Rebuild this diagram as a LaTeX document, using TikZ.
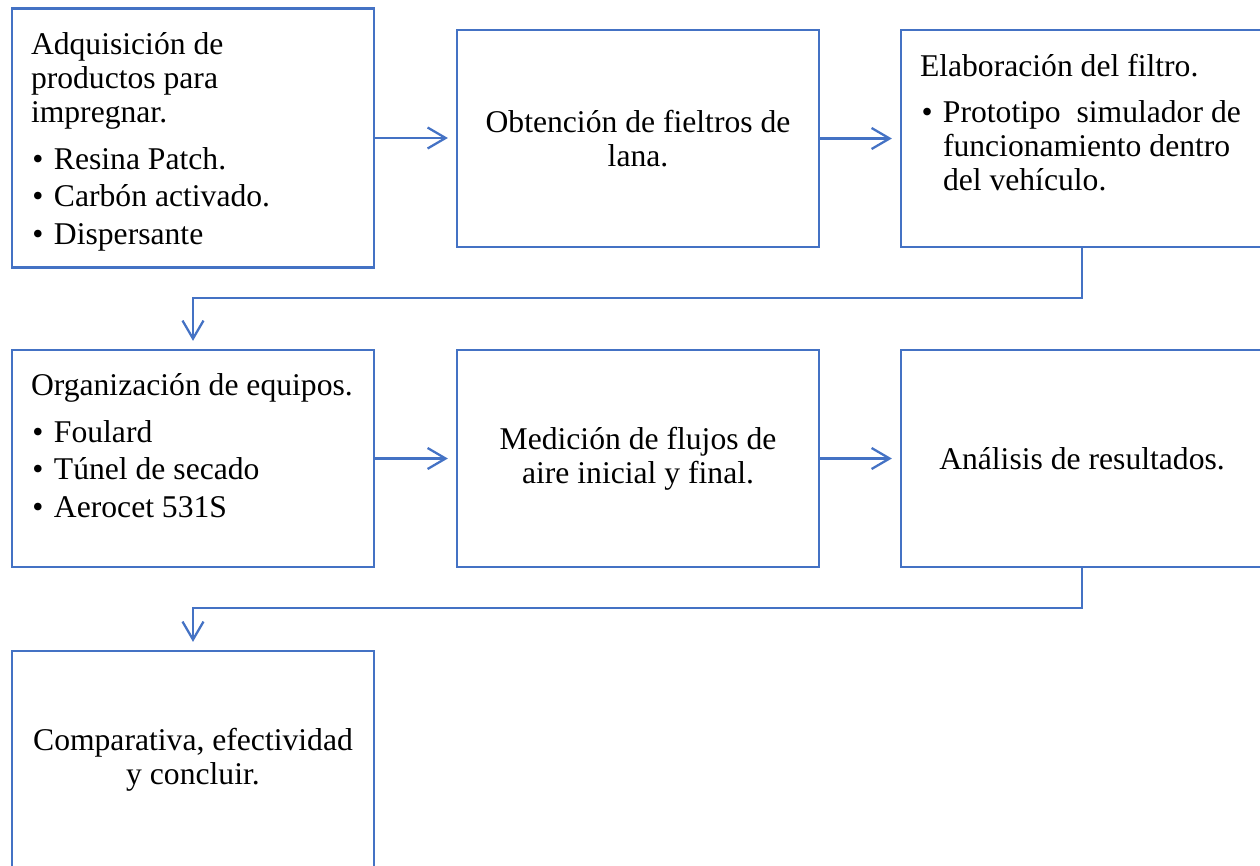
\documentclass[tikz,border=0pt]{standalone}
\usepackage{fontspec}
\setmainfont{Liberation Serif}
\usetikzlibrary{arrows.meta}

\definecolor{boxblue}{HTML}{4472C4}

\newcommand{\itm}[1]{\par\vspace{2pt}\noindent\hangindent=0.46cm\hangafter=0\llap{\makebox[0.46cm][l]{\hspace{0.03cm}\textbullet}}#1\par}
\newcommand{\topbox}[2]{\parbox[c][#1][t]{6.6cm}{\raggedright\leftskip=0.06cm\vspace*{0.48cm}#2}}

\begin{document}
\begin{tikzpicture}[
    box/.style={draw=boxblue, line width=1.3pt, rectangle, inner sep=0pt,
        minimum width=7.24cm, minimum height=4.34cm,
        font=\fontsize{18}{19.4}\selectfont},
    flow/.style={draw=boxblue, line width=1.3pt,
        -{Straight Barb[length=0.36cm, width=0.42cm]}, shorten >=0.16cm}
]
    \useasboundingbox (0,0) rectangle (25.2,-17.32);

    \node[box, minimum height=5.18cm] (adq) at (3.86,-2.76) {\topbox{5.18cm}{Adquisición de\\ productos para\\ impregnar.\par\vspace{5pt}\itm{Resina Patch.}\itm{Carbón activado.}\itm{Dispersante}}};
    \node[box, align=center] (fiel) at (12.76,-2.77) {Obtención de fieltros de\\ lana.};
    \node[box] (elab) at (21.64,-2.77) {\topbox{4.34cm}{Elaboración del filtro.\par\vspace{5pt}\itm{Prototipo\ \ simulador de\newline funcionamiento dentro\newline del vehículo.}}};

    \node[box] (org) at (3.86,-9.17) {\topbox{4.34cm}{Organización de equipos.\par\vspace{5pt}\itm{Foulard}\itm{Túnel de secado}\itm{Aerocet 531S}}};
    \node[box, align=center] (med) at (12.76,-9.17) {Medición de flujos de\\ aire inicial y final.};
    \node[box, align=center] (ana) at (21.64,-9.17) {Análisis de resultados.};

    \node[box, align=center] (comp) at (3.86,-15.19) {Comparativa, efectividad\\ y concluir.};

    \draw[flow] (adq.east) -- (adq.east -| fiel.west);
    \draw[flow] (fiel.east) -- (elab.west);
    \draw[flow] (org.east) -- (med.west);
    \draw[flow] (med.east) -- (ana.west);

    \coordinate (turn1) at (0,-5.96);
    \coordinate (turn2) at (0,-12.16);
    \draw[flow] (elab.south) -- (elab.south |- turn1) -| (org.north);
    \draw[flow] (ana.south) -- (ana.south |- turn2) -| (comp.north);

\end{tikzpicture}
\end{document}
